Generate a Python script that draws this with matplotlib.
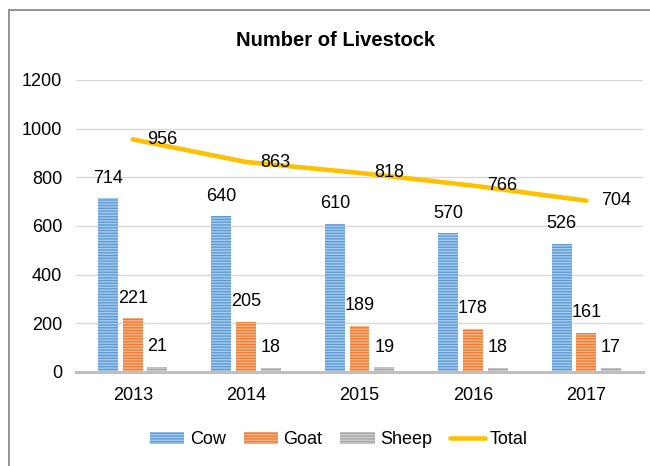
import matplotlib
matplotlib.use("Agg")
import matplotlib.pyplot as plt
from matplotlib import font_manager
from matplotlib.lines import Line2D
from matplotlib.patches import Patch

years = ["2013", "2014", "2015", "2016", "2017"]
cow = [714, 640, 610, 570, 526]
goat = [221, 205, 189, 178, 161]
sheep = [21, 18, 19, 18, 17]
total = [956, 863, 818, 766, 704]

names = {f.name for f in font_manager.fontManager.ttflist}
base_font = "Liberation Sans" if "Liberation Sans" in names else "DejaVu Sans"

plt.rcParams["font.family"] = [base_font, "DejaVu Sans"]
plt.rcParams["hatch.linewidth"] = 1.0

W, H = 650, 466
fig = plt.figure(figsize=(W / 100, H / 100), dpi=100)
ax = fig.add_axes([76 / W, (H - 372) / H, (643 - 76) / W, (372 - 80) / H])

x = list(range(len(years)))
bw = 0.175
step = 0.218
series = [
    ("Cow", cow, "#5B9BD5", "#A9CCEC", -step),
    ("Goat", goat, "#ED7D31", "#F6B48A", 0.0),
    ("Sheep", sheep, "#A5A5A5", "#CFCFCF", step),
]

for name, vals, face, stripe, off in series:
    pos = [i + off for i in x]
    bars = ax.bar(pos, vals, width=bw, color=face, edgecolor=stripe,
                  hatch="------", linewidth=0, zorder=2)
    for b, v in zip(bars, vals):
        ax.annotate(str(v), (b.get_x() + b.get_width() / 2, v),
                    xytext=(0, 14.5), textcoords="offset points",
                    ha="center", va="center", fontsize=13, color="#000000",
                    zorder=5)

ax.plot(x, total, color="#FFC000", linewidth=3.3, solid_capstyle="round",
        zorder=3)
for xi, v in zip(x, total):
    ax.annotate(str(v), (xi, v), xytext=(10.5, 0), textcoords="offset points",
                ha="left", va="center", fontsize=13, color="#000000", zorder=5)

ax.set_xlim(-0.5, 4.5)
ax.set_ylim(0, 1200)
ax.set_yticks(range(0, 1201, 200))
ax.set_xticks(x)
ax.set_xticklabels(years)
ax.tick_params(axis="both", length=0, labelsize=13, colors="#000000")
ax.tick_params(axis="y", pad=10)
ax.tick_params(axis="x", pad=11)
ax.grid(axis="y", color="#D9D9D9", linewidth=1.0, zorder=0)
ax.set_axisbelow(True)
for s in ["top", "right", "left"]:
    ax.spines[s].set_visible(False)
ax.spines["bottom"].set_color("#BFBFBF")
ax.spines["bottom"].set_linewidth(2.2)
ax.spines["bottom"].set_zorder(4)

fig.text(336 / W, (H - 40) / H, "Number of Livestock", ha="center",
         va="center", fontsize=14.5, fontweight="bold")

handles = [Patch(facecolor=c, edgecolor=s, hatch="------", linewidth=0,
                 label=n) for n, _, c, s, _ in series]
handles.append(Line2D([0], [0], color="#FFC000", linewidth=3.3,
                      solid_capstyle="round", label="Total"))
fig.legend(handles=handles, loc="center", bbox_to_anchor=(339 / W, (H - 440) / H),
           ncol=4, frameon=False, fontsize=13, handlelength=1.9,
           handleheight=0.6, handletextpad=0.3, columnspacing=1.0)

# chart frame
fig.add_artist(Line2D([9 / W, 9 / W], [0, (H - 10) / H], color="#8C8C8C",
                      linewidth=1.3, transform=fig.transFigure))
fig.add_artist(Line2D([9 / W, 1], [(H - 10) / H, (H - 10) / H], color="#8C8C8C",
                      linewidth=1.3, transform=fig.transFigure))

fig.savefig("out.png", dpi=100, facecolor="white")
